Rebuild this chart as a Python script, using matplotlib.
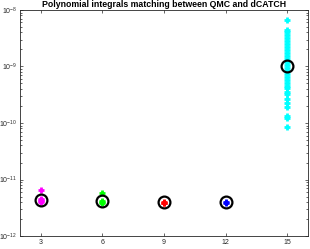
import matplotlib
matplotlib.use("Agg")
import matplotlib.pyplot as plt
from matplotlib.ticker import LogLocator, NullFormatter, FixedLocator

plt.rcParams['font.family'] = ['Liberation Sans', 'DejaVu Sans']
plt.rcParams['mathtext.fontset'] = 'custom'
plt.rcParams['mathtext.rm'] = 'Liberation Sans'

degrees = [3, 6, 9, 12, 15]
colors = ['magenta', '#00ff00', 'red', 'blue', 'cyan']
errors_3 = [6.5e-12, 4.6e-12, 4.3e-12, 4.0e-12, 4.2e-12]
errors_6 = [5.7e-12, 4.2e-12, 4.0e-12, 3.8e-12]
errors_9 = [4.0e-12, 3.9e-12, 3.8e-12]
errors_12 = [4.0e-12, 3.9e-12]
errors_15 = [6.67e-9, 4.45e-9, 4.1e-9, 3.6e-9, 3.2e-9, 2.85e-9, 2.5e-9, 2.2e-9,
             1.95e-9, 1.75e-9, 1.55e-9, 1.37e-9, 1.2e-9, 1.07e-9, 9.5e-10,
             8.4e-10, 7.4e-10, 6.6e-10, 5.8e-10, 5.2e-10, 4.6e-10, 4.1e-10,
             3.6e-10, 3.2e-10, 2.7e-10, 2.3e-10, 1.9e-10, 1.35e-10, 1.25e-10,
             8.6e-11]
mean_errors = [4.3e-12, 4.1e-12, 4.0e-12, 3.97e-12, 1.0e-9]
y_ticks = [1e-12, 1e-11, 1e-10, 1e-9, 1e-8]
y_ticklabels = [r'$10^{-12}$', r'$10^{-11}$', r'$10^{-10}$', r'$10^{-9}$', r'$10^{-8}$']
title = 'Polynomial integrals matching between QMC and dCATCH'

all_errors = [errors_3, errors_6, errors_9, errors_12, errors_15]

fig = plt.figure(figsize=(3.10, 2.49), dpi=100)
ax = fig.add_axes([0.0645, 0.052, 0.929, 0.908])

for d, c, errs in zip(degrees, colors, all_errors):
    ax.plot([d] * len(errs), errs, linestyle='none', marker='+', color=c,
            markersize=4.5, markeredgewidth=2.0)
ax.plot(degrees, mean_errors, linestyle='none', marker='o', markerfacecolor='none',
        markeredgecolor='black', markersize=8.5, markeredgewidth=1.6)

ax.set_yscale('log')
ax.set_ylim(1e-12, 1e-8)
ax.set_xlim(2, 16)
ax.set_xticks(degrees)
ax.yaxis.set_major_locator(FixedLocator(y_ticks))
ax.set_yticklabels(y_ticklabels)
ax.yaxis.set_minor_locator(LogLocator(base=10, subs=range(2, 10), numticks=20))
ax.yaxis.set_minor_formatter(NullFormatter())
ax.tick_params(axis='both', which='both', direction='in', top=True, right=True,
               labelsize=5, colors='#262626', length=2.5, width=0.5, pad=2)
ax.tick_params(axis='y', which='minor', length=1.5)
for s in ax.spines.values():
    s.set_linewidth(0.6)
    s.set_color('#262626')
ax.set_title(title, fontsize=6.3, fontweight='bold', pad=2)

fig.savefig('out.png', dpi=100)
